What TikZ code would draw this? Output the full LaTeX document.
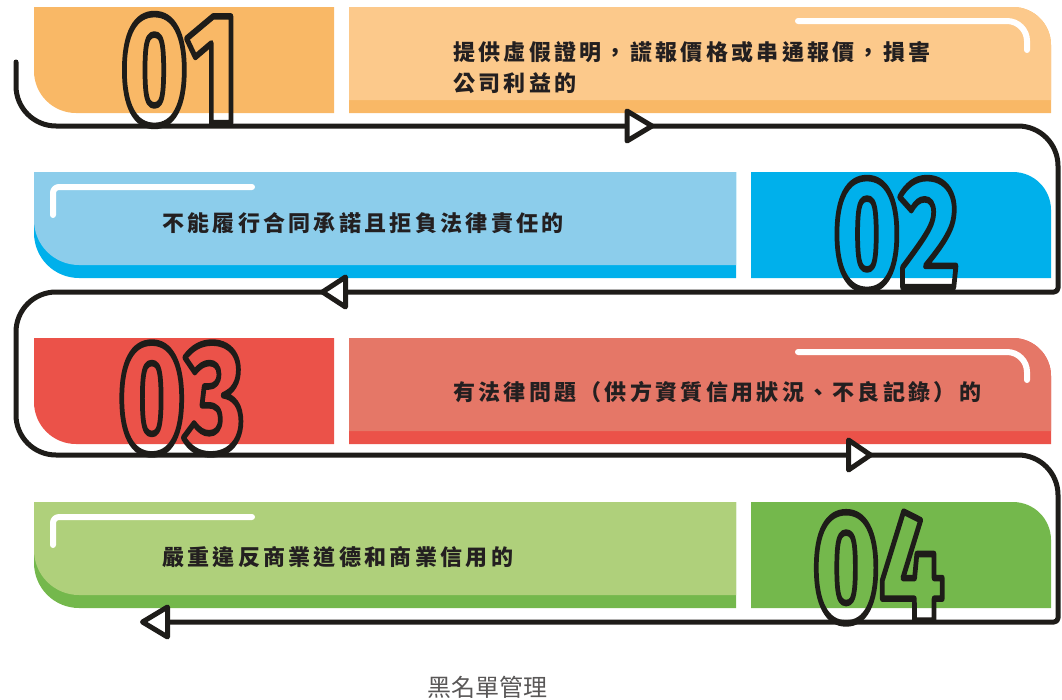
\documentclass[tikz,border=0pt]{standalone}
\usepackage{fontspec}
\usepackage{graphicx}
\newfontfamily\cjk{Noto Sans CJK TC}[LetterSpace=15]
\newfontfamily\cjkcap{Noto Sans CJK TC}
\IfFontExistsTF{Fira Sans Heavy}{\newfontfamily\digitfont{Fira Sans Heavy}}{%
  \IfFontExistsTF{Fira Sans ExtraBold}{\newfontfamily\digitfont{Fira Sans ExtraBold}}{%
    \newfontfamily\digitfont{Fira Sans Bold}}}
\definecolor{orD}{HTML}{F9B866}
\definecolor{orL}{HTML}{FCC98B}
\definecolor{blL}{HTML}{8CCDEB}
\definecolor{blD}{HTML}{00B0EB}
\definecolor{rdD}{HTML}{EB5249}
\definecolor{rdL}{HTML}{E57767}
\definecolor{grL}{HTML}{AFD07B}
\definecolor{grD}{HTML}{74B84C}
\definecolor{txtc}{HTML}{231F20}
\definecolor{capc}{HTML}{595757}
\definecolor{flowc}{HTML}{1E1C19}
\newcommand\outlinenum[1]{\scalebox{0.72}[1]{\resizebox{!}{109pt}{\fontsize{156}{156}\digitfont\special{pdf:literal direct 1 Tr 6.5 w 1 j}#1\special{pdf:literal direct 0 Tr}}}}
\tikzset{
  hl/.style={white, line width=6pt, line cap=round, line join=round},
  flow/.style={flowc, line width=5pt, line cap=round, line join=round},
  tri/.style={draw=flowc, fill=white, line width=5pt, line join=round},
  txt/.style={font=\cjk\bfseries\fontsize{22}{31}\selectfont, text=txtc, inner sep=0pt, align=left, anchor=west},
  numnode/.style={inner sep=0pt, text=flowc},
}
\begin{document}
\begin{tikzpicture}[x=1pt,y=-1pt]
\useasboundingbox (0,0) rectangle (1062,699);
% ---------- row 1 (orange)
\fill[orD] (34,7) -- (334,7) -- (334,113) -- (76,113) arc[start angle=90,end angle=180,radius=42] -- cycle;
\fill[orD] (349,7) -- (1013,7) arc[start angle=-90,end angle=0,radius=38] -- (1051,113) -- (349,113) -- cycle;
\fill[orL] (349,7) -- (1013,7) arc[start angle=-90,end angle=0,radius=38] -- (1051,100) -- (349,100) -- cycle;
\draw[hl] (798,21) -- (1007,21) arc[start angle=-90,end angle=0,radius=20] -- (1027,50);
% ---------- row 2 (blue)
\fill[blD] (34,172) -- (736,172) -- (736,278) -- (79,278) arc[start angle=90,end angle=180,radius=45] -- cycle;
\fill[blL] (34,172) -- (736,172) -- (736,265) -- (79,265) arc[start angle=90,end angle=180,radius=45] -- cycle;
\fill[blD] (751,172) -- (1013,172) arc[start angle=-90,end angle=0,radius=38] -- (1051,278) -- (751,278) -- cycle;
\draw[hl] (53,215) -- (53,193) arc[start angle=180,end angle=270,radius=6] -- (252,187);
% ---------- row 3 (red)
\fill[rdD] (34,338) -- (334,338) -- (334,444) -- (76,444) arc[start angle=90,end angle=180,radius=42] -- cycle;
\fill[rdD] (349,338) -- (1013,338) arc[start angle=-90,end angle=0,radius=38] -- (1051,444) -- (349,444) -- cycle;
\fill[rdL] (349,338) -- (1013,338) arc[start angle=-90,end angle=0,radius=38] -- (1051,431) -- (349,431) -- cycle;
\draw[hl] (798,352) -- (1007,352) arc[start angle=-90,end angle=0,radius=20] -- (1027,380);
% ---------- row 4 (green)
\fill[grD] (34,502) -- (736,502) -- (736,608) -- (79,608) arc[start angle=90,end angle=180,radius=45] -- cycle;
\fill[grL] (34,502) -- (736,502) -- (736,595) -- (79,595) arc[start angle=90,end angle=180,radius=45] -- cycle;
\fill[grD] (751,502) -- (1013,502) arc[start angle=-90,end angle=0,radius=38] -- (1051,608) -- (751,608) -- cycle;
\draw[hl] (53,545) -- (53,523) arc[start angle=180,end angle=270,radius=6] -- (252,517);
% ---------- flow line
\coordinate (fs) at (16,62);
\coordinate (fe) at (167.5,622);
\draw[flow] (fs) -- (16,86) arc[start angle=180,end angle=90,radius=40]
  -- (1018,126) arc[start angle=-90,end angle=0,radius=40]
  -- (1058,288) arc[start angle=0,end angle=90,radius=4]
  -- (56,292) arc[start angle=-90,end angle=-180,radius=40]
  -- (16,415) arc[start angle=180,end angle=90,radius=40]
  -- (1018,455) arc[start angle=-90,end angle=0,radius=40]
  -- (1058,618) arc[start angle=0,end angle=90,radius=4]
  -- (fe);
% arrow triangles
\coordinate (a1) at (627,126);
\coordinate (a2) at (345.5,292);
\coordinate (a3) at (848.5,455);
\coordinate (a4) at (fe);
\draw[tri] (a1) ++(0,-15) -- ++(25,15) -- ++(-25,15) -- cycle;
\draw[tri] (a2) ++(0,-15) -- ++(-23,15) -- ++(23,15) -- cycle;
\draw[tri] (a3) ++(0,-15) -- ++(22,15) -- ++(-22,15) -- cycle;
\draw[tri] (a4) ++(0,-15) -- ++(-25,15) -- ++(25,15) -- cycle;
% ---------- numbers
\node[numnode] (n1) at (180,70) {\outlinenum{01}};
\node[numnode] (n2) at (896,234) {\outlinenum{02}};
\node[numnode] (n3) at (181,398.5) {\outlinenum{03}};
\node[numnode] (n4) at (878.5,567.5) {\outlinenum{04}};
% ---------- texts
\node[txt] (t1) at (453,67.5) {提供虛假證明，謊報價格或串通報價，損害\\公司利益的};
\node[txt] (t2) at (162,223) {不能履行合同承諾且拒負法律責任的};
\node[txt] (t3) at (453,392) {有法律問題（供方資質信用狀況、不良記錄）的};
\node[txt] (t4) at (162,557) {嚴重違反商業道德和商業信用的};
\node[font=\cjkcap\fontsize{24}{24}\selectfont, text=capc, inner sep=0pt] (cap) at (487,687) {黑名單管理};
\end{tikzpicture}
\end{document}
